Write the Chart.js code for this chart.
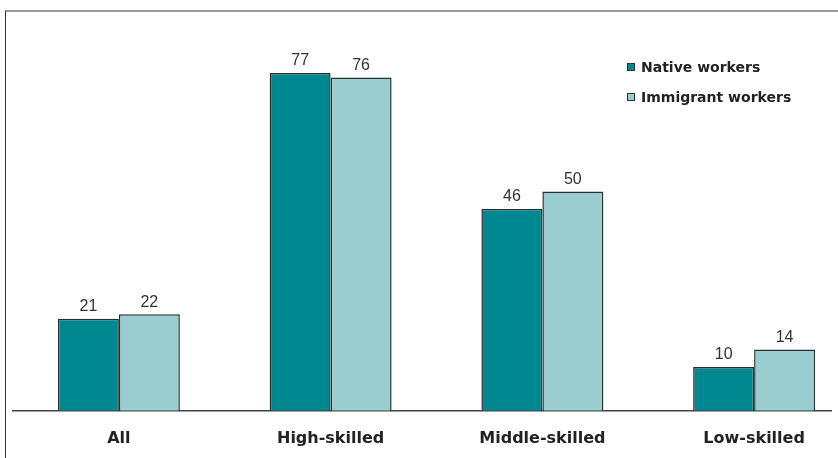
<!DOCTYPE html>
<html>
<head>
<meta charset="utf-8">
<script src="https://cdn.jsdelivr.net/npm/chart.js@4/dist/chart.umd.min.js"></script>
<style>
  html, body { margin: 0; padding: 0; background: #fff; overflow: hidden; }
  #frame { position: absolute; left: 5px; top: 10px; width: 840px; height: 460px;
           border-left: 1px solid #333; border-top: 2px solid #9a9a9a; }
  #wrap { position: absolute; left: 0; top: 0; width: 832px; height: 458px; overflow: hidden; }
  #wrap canvas { display: block; }
  #legend { position: absolute; left: 627px; top: 58px; font: bold 14px "DejaVu Sans", sans-serif; color: #222; }
  .item { height: 30px; line-height: 18px; white-space: nowrap; }
  .box { display: inline-block; width: 6px; height: 6px; border: 1px solid #333; margin-right: 6px; vertical-align: 1px; }
</style>
</head>
<body>
<div id="frame"></div>
<div id="wrap"><canvas id="chart" width="880" height="477"></canvas></div>
<div id="legend"></div>
<script>
const categories = ["All", "High-skilled", "Middle-skilled", "Low-skilled"];
const nativeWorkers = [21, 77, 46, 10];
const immigrantWorkers = [22, 76, 50, 14];
const seriesNames = ["Native workers", "Immigrant workers"];
const seriesColors = ["#008891", "#99cdcf"];

// numbers above each bar
const valueLabels = {
    id: 'valueLabels',
    afterDatasetsDraw(chart) {
        const ctx = chart.ctx;
        ctx.save();
        ctx.font = '16px "Liberation Sans", Arial, sans-serif';
        ctx.fillStyle = '#333';
        ctx.textAlign = 'center';
        ctx.textBaseline = 'bottom';
        chart.data.datasets.forEach((ds, i) => {
            chart.getDatasetMeta(i).data.forEach((bar, j) => {
                ctx.fillText(ds.data[j], bar.x, bar.y - 4);
            });
        });
        ctx.restore();
    }
};

const chart = new Chart(document.getElementById('chart'), {
    type: 'bar',
    data: {
        labels: categories,
        datasets: [
            { label: seriesNames[0], data: nativeWorkers, backgroundColor: seriesColors[0] },
            { label: seriesNames[1], data: immigrantWorkers, backgroundColor: seriesColors[1] }
        ]
    },
    options: {
        responsive: false,
        animation: false,
        layout: { padding: { left: 13, right: 20, top: 16, bottom: 11 } },
        datasets: {
            bar: { categoryPercentage: 0.576, barPercentage: 1, borderColor: '#263030', borderWidth: 1.5 }
        },
        plugins: { legend: { display: false }, tooltip: { enabled: false } },
        scales: {
            x: {
                grid: { display: false, drawTicks: false },
                border: { color: '#444', width: 1.5 },
                ticks: { color: '#222', padding: 18, font: { family: '"DejaVu Sans", sans-serif', size: 16, weight: 'bold' } }
            },
            y: { display: false, min: 0, max: 90 }
        }
    },
    plugins: [valueLabels]
});

const legend = document.getElementById('legend');
seriesNames.forEach((name, i) => {
    const row = document.createElement('div');
    row.className = 'item';
    row.innerHTML = `<span class="box" style="background:${seriesColors[i]}"></span>${name}`;
    legend.appendChild(row);
});
</script>
</body>
</html>
